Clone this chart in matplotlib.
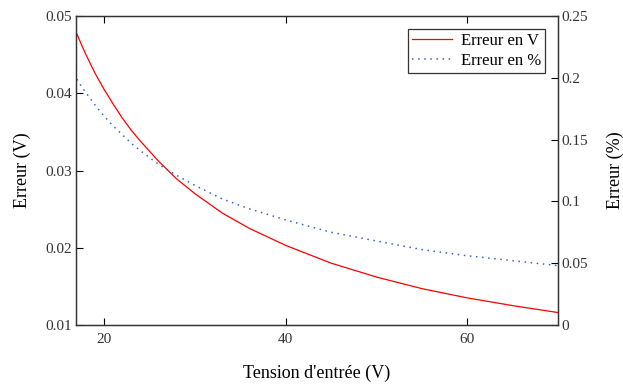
import numpy as np
import matplotlib.pyplot as plt

plt.rcParams['font.family'] = ['Liberation Serif', 'DejaVu Serif']

# tension d'entree (V)
tension = [17, 17.5, 18, 18.5, 19, 20, 21, 22, 23, 24, 26, 28, 30, 33, 36, 40,
           45, 50, 55, 60, 65, 70]
# erreur absolue (V)
err_v = [0.0477, 0.0463, 0.0450, 0.0438, 0.0426, 0.0405, 0.0386, 0.0368, 0.0352,
         0.0338, 0.0312, 0.0289, 0.0270, 0.0245, 0.0225, 0.0203, 0.0180, 0.0162,
         0.0147, 0.0135, 0.0125, 0.0116]
# erreur relative (%)
err_pct = [0.199, 0.193, 0.188, 0.183, 0.178, 0.169, 0.161, 0.154, 0.147, 0.141,
           0.130, 0.121, 0.113, 0.102, 0.094, 0.085, 0.075, 0.068, 0.061, 0.056,
           0.052, 0.048]

fig = plt.figure(figsize=(6.23, 3.85), dpi=100)
ax = fig.add_axes([0.122, 0.156, 0.774, 0.802])
ax2 = ax.twinx()

l1, = ax.plot(tension, err_v, color='#ff0000', lw=0.9)
l2, = ax2.plot(tension, err_pct, color='#3a64c0', lw=1.1, ls=(0, (1, 3)))

ax.set_xlim(16.9, 70)
ax.set_ylim(0.01, 0.05)
ax2.set_ylim(0, 0.25)
ax.set_xticks([20, 40, 60])
ax.set_yticks([0.01, 0.02, 0.03, 0.04, 0.05])
ax.set_yticklabels(['0.01', '0.02', '0.03', '0.04', '0.05'])
ax2.set_yticks([0, 0.05, 0.1, 0.15, 0.2, 0.25])
ax2.set_yticklabels(['0', '0.05', '0.1', '0.15', '0.2', '0.25'])

ax.tick_params(axis='x', direction='in', top=True, length=5, width=0.8,
               labelsize=11, labelcolor='#333333', pad=6)
ax.tick_params(axis='y', direction='in', length=5, width=0.8,
               labelsize=11, labelcolor='#333333', pad=3)
ax2.tick_params(axis='y', direction='in', length=5, width=0.8,
                labelsize=11, labelcolor='#333333', pad=2)
for a in (ax, ax2):
    for s in a.spines.values():
        s.set_linewidth(0.9)
        s.set_color('#333333')

ax.set_xlabel("Tension d'entrée (V)", fontsize=13, labelpad=13)
ax.set_ylabel('Erreur (V)', fontsize=13, labelpad=10)
ax2.set_ylabel('Erreur (%)', fontsize=13, labelpad=14)

leg = ax2.legend([l1, l2], ['Erreur en V', 'Erreur en %'], loc='upper right',
                 bbox_to_anchor=(0.983, 0.975), fontsize=12, fancybox=False,
                 framealpha=1, edgecolor='#333333', handlelength=2.4,
                 borderpad=0.25, labelspacing=0.25, handletextpad=0.5,
                 borderaxespad=0.3)
leg.get_frame().set_linewidth(0.9)

fig.savefig('out.png', dpi=100)
